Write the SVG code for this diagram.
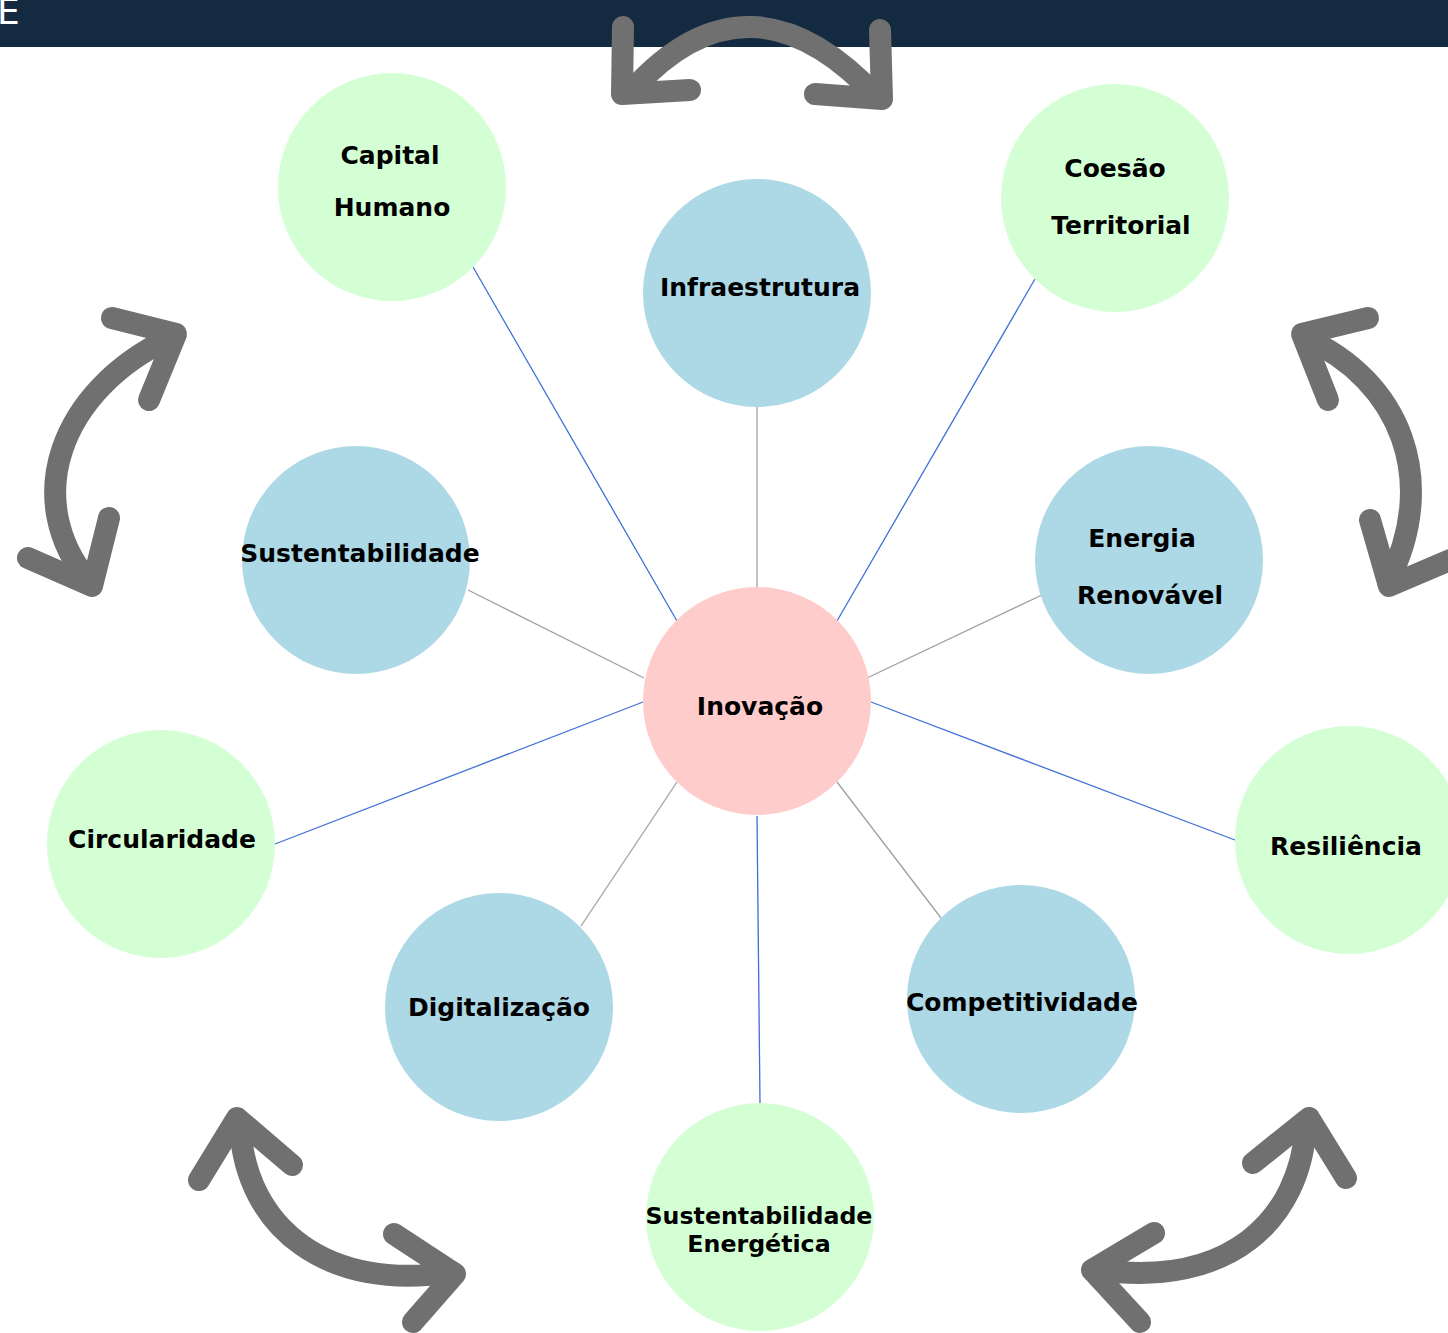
<svg xmlns="http://www.w3.org/2000/svg" width="1448" height="1333" viewBox="0 0 1448 1333">
  <style>
    .bg { fill: #ffffff; }
    .bar { fill: #142a40; }
    .core { fill: #ffcccc; }
    .pillar { fill: #add8e6; }
    .goal { fill: #d4ffd4; }
    .label { font-family: "DejaVu Sans", Verdana, sans-serif; font-weight: bold; font-size: 25px; fill: #000000; text-anchor: middle; }
    .label-sm { font-size: 23.7px; }
    .link-blue { stroke: #3f6fd8; stroke-width: 1.3; fill: none; }
    .link-gray { stroke: #a0a0a0; stroke-width: 1.3; fill: none; }
    .cycle { stroke: #707070; stroke-width: 22; fill: none; stroke-linecap: round; stroke-linejoin: round; }
  </style>

  <rect class="bg" x="0" y="0" width="1448" height="1333"/>

  <!-- header band -->
  <g id="header">
    <rect class="bar" x="0" y="0" width="1448" height="47"/>
    <text x="-3" y="24" font-family="DejaVu Sans, sans-serif" font-size="36" fill="#ffffff">E</text>
  </g>

  <!-- connectors from the centre -->
  <g id="connectors">
    <line class="link-blue" x1="473" y1="267" x2="677" y2="621"/>
    <line class="link-gray" x1="757" y1="407" x2="757" y2="588"/>
    <line class="link-blue" x1="1035" y1="279" x2="837" y2="621"/>
    <line class="link-gray" x1="468" y1="590" x2="644" y2="678"/>
    <line class="link-gray" x1="1044" y1="594" x2="867" y2="678"/>
    <line class="link-blue" x1="275" y1="844" x2="643" y2="702"/>
    <line class="link-blue" x1="871" y1="702" x2="1235" y2="840"/>
    <line class="link-gray" x1="581" y1="926" x2="677" y2="782"/>
    <line class="link-gray" x1="941" y1="918" x2="837" y2="782"/>
    <line class="link-blue" x1="757" y1="816" x2="760" y2="1103"/>
  </g>

  <!-- cycle arrows around the ring -->
  <g id="cycle-arrows">
    <g id="arrow-top">
      <path class="cycle" d="M 632,90 Q 750,-40 878,98"/>
      <polyline class="cycle" points="623,27 622,94 690,90"/>
      <polyline class="cycle" points="880,30 882,99 815,94"/>
    </g>
    <g id="arrow-left">
      <path class="cycle" d="M 170,338 C 60,390 20,500 90,583"/>
      <polyline class="cycle" points="112,318 176,334 149,400"/>
      <polyline class="cycle" points="28,558 92,586 109,518"/>
    </g>
    <g id="arrow-right">
      <path class="cycle" d="M 1305,338 C 1400,380 1440,480 1388,582"/>
      <polyline class="cycle" points="1368,318 1302,334 1328,400"/>
      <polyline class="cycle" points="1370,520 1389,586 1450,560"/>
    </g>
    <g id="arrow-bottom-left">
      <path class="cycle" d="M 240,1125 C 245,1230 330,1292 452,1272"/>
      <polyline class="cycle" points="199,1180 237,1118 292,1165"/>
      <polyline class="cycle" points="394,1234 455,1274 413,1322"/>
    </g>
    <g id="arrow-bottom-right">
      <path class="cycle" d="M 1306,1125 C 1300,1220 1230,1288 1098,1270"/>
      <polyline class="cycle" points="1253,1163 1309,1118 1346,1178"/>
      <polyline class="cycle" points="1154,1233 1092,1270 1140,1322"/>
    </g>
  </g>

  <!-- nodes -->
  <g id="node-capital-humano">
    <circle class="goal" cx="392" cy="187" r="114"/>
    <text class="label" x="390" y="164">Capital</text>
    <text class="label" x="392" y="216">Humano</text>
  </g>
  <g id="node-infraestrutura">
    <circle class="pillar" cx="757" cy="293" r="114"/>
    <text class="label" x="760" y="296">Infraestrutura</text>
  </g>
  <g id="node-coesao-territorial">
    <circle class="goal" cx="1115" cy="198" r="114"/>
    <text class="label" x="1115" y="177">Coesão</text>
    <text class="label" x="1121" y="234">Territorial</text>
  </g>
  <g id="node-sustentabilidade">
    <circle class="pillar" cx="356" cy="560" r="114"/>
    <text class="label" x="360" y="562">Sustentabilidade</text>
  </g>
  <g id="node-energia-renovavel">
    <circle class="pillar" cx="1149" cy="560" r="114"/>
    <text class="label" x="1142" y="547">Energia</text>
    <text class="label" x="1150" y="604">Renovável</text>
  </g>
  <g id="node-inovacao">
    <circle class="core" cx="757" cy="701" r="114"/>
    <text class="label" x="760" y="715">Inovação</text>
  </g>
  <g id="node-circularidade">
    <circle class="goal" cx="161" cy="844" r="114"/>
    <text class="label" x="162" y="848">Circularidade</text>
  </g>
  <g id="node-resiliencia">
    <circle class="goal" cx="1349" cy="840" r="114"/>
    <text class="label" x="1346" y="855">Resiliência</text>
  </g>
  <g id="node-digitalizacao">
    <circle class="pillar" cx="499" cy="1007" r="114"/>
    <text class="label" x="499" y="1016">Digitalização</text>
  </g>
  <g id="node-competitividade">
    <circle class="pillar" cx="1021" cy="999" r="114"/>
    <text class="label" x="1022" y="1011">Competitividade</text>
  </g>
  <g id="node-sustentabilidade-energetica">
    <circle class="goal" cx="760" cy="1217" r="114"/>
    <text class="label label-sm" x="759" y="1224">Sustentabilidade</text>
    <text class="label label-sm" x="759" y="1252">Energética</text>
  </g>
</svg>
